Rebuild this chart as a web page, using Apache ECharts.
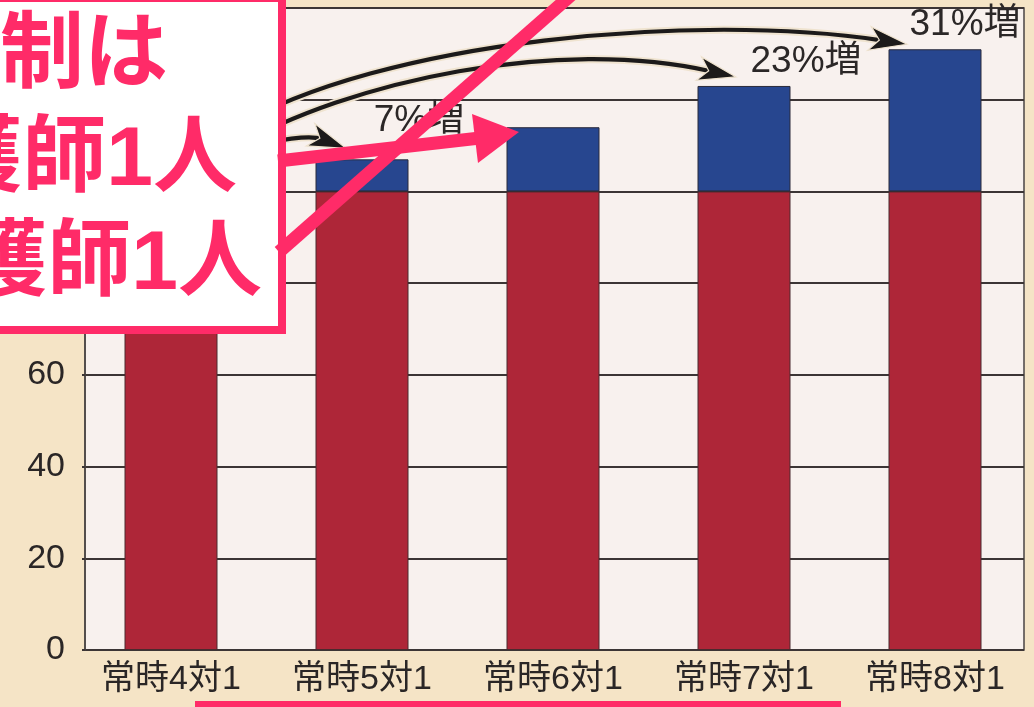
<!DOCTYPE html>
<html>
<head>
<meta charset="utf-8">
<style>
  html, body { margin: 0; padding: 0; background: #f5e4c6; }
  #chart { width: 1034px; height: 707px; }
</style>
<script src="https://cdn.jsdelivr.net/npm/echarts@6/dist/echarts.min.js"></script>
</head>
<body>
<div id="chart"></div>
<script>
// Staffing ratios on the x axis
const categories = ['常時4対1', '常時5対1', '常時6対1', '常時7対1', '常時8対1'];
// Baseline staffing (index 100) and the additional part above it
const baseValues = [100, 100, 100, 100, 100];
const extraValues = [0, 7, 14, 23, 31];
// Which bars carry an "n%増" callout
const showIncrease = [false, true, false, true, true];
// Value axis ticks
const yMin = 0, yMax = 140, yStep = 20;

const FONT = '"Liberation Sans", "Noto Sans CJK JP", sans-serif';
const PINK = '#ff2b68';
const RED = '#ae2638';
const BLUE = '#27468f';
const INK = '#2a2626';

// Label nudges for the callouts, per category
const calloutShift = [[0, 0], [57, -14], [0, 0], [62, 0], [30, 0]];

const chart = echarts.init(document.getElementById('chart'), null, { renderer: 'canvas' });

const blueData = extraValues.map((v, i) => ({
  value: v,
  label: {
    show: showIncrease[i],
    offset: calloutShift[i]
  }
}));

chart.setOption({
  animation: false,
  backgroundColor: '#f5e4c6',
  grid: [
    { left: 85, right: 10, top: 8, bottom: 57, show: true,
      backgroundColor: '#f8f1ee', borderColor: '#4a4444', borderWidth: 1.5 },
    { left: 75.5, width: 955, top: 8, bottom: 57 }
  ],
  xAxis: [
    { gridIndex: 0, type: 'category', data: categories, show: false },
    { gridIndex: 1, type: 'category', data: categories,
      axisLine: { show: false }, axisTick: { show: false },
      axisLabel: { fontSize: 34, color: INK, fontFamily: FONT, margin: 13 } }
  ],
  yAxis: [
    { gridIndex: 0, type: 'value', min: yMin, max: yMax, interval: yStep,
      axisLine: { show: true, lineStyle: { color: '#4a4444', width: 1.5 } },
      axisTick: { show: true, length: 3, lineStyle: { color: '#3c3535', width: 2 } },
      splitLine: { show: true, lineStyle: { color: '#3c3535', width: 2 } },
      axisLabel: { fontSize: 34, color: INK, fontFamily: FONT, margin: 20,
        formatter: v => (v >= 80 ? '' : String(v)) } },
    { gridIndex: 1, type: 'value', min: yMin, max: yMax, interval: yStep, show: false }
  ],
  series: [
    { type: 'bar', name: 'base', stack: 'total', xAxisIndex: 1, yAxisIndex: 1,
      data: baseValues, barWidth: 93,
      itemStyle: { color: RED, borderColor: '#4a2a2e', borderWidth: 1 } },
    { type: 'bar', name: 'extra', stack: 'total', xAxisIndex: 1, yAxisIndex: 1,
      data: blueData, barWidth: 93,
      itemStyle: { color: BLUE, borderColor: '#2a2a3a', borderWidth: 1 },
      label: { show: false, position: 'top', distance: 6,
        fontSize: 37, color: '#2b2727', fontFamily: FONT,
        formatter: p => p.value + '%増' } }
  ]
});

// Pixel position of the top of a stacked bar
function barTop(i) {
  const total = baseValues[i] + extraValues[i];
  return chart.convertToPixel({ xAxisIndex: 1, yAxisIndex: 1 }, [i, total]);
}

// Curved black arrow with a pale halo, ending at the tip point
function curvedArrow(p0, p1, p2, tip) {
  const els = [];
  const dx = tip[0] - p2[0], dy = tip[1] - p2[1];
  const len = Math.hypot(dx, dy);
  const ux = dx / len, uy = dy / len;
  const nx = -uy, ny = ux;
  const back = 38, half = 12, notch = 28;
  // stop the shaft inside the head so the point stays sharp
  const end = [tip[0] - ux * (notch - 2), tip[1] - uy * (notch - 2)];
  const shape = { x1: p0[0], y1: p0[1], cpx1: p1[0], cpy1: p1[1],
    cpx2: p2[0], cpy2: p2[1], x2: end[0], y2: end[1] };
  els.push({ type: 'bezierCurve', shape, z: 10,
    style: { stroke: '#efe3cf', lineWidth: 8, fill: null } });
  els.push({ type: 'bezierCurve', shape, z: 11,
    style: { stroke: '#1c1a1a', lineWidth: 4.2, fill: null } });
  els.push({ type: 'polygon', z: 12,
    shape: { points: [
      [tip[0], tip[1]],
      [tip[0] - ux * back + nx * half, tip[1] - uy * back + ny * half],
      [tip[0] - ux * notch, tip[1] - uy * notch],
      [tip[0] - ux * back - nx * half, tip[1] - uy * back - ny * half]
    ] },
    style: { fill: '#1c1a1a', stroke: '#efe3cf', lineWidth: 1.2 } });
  return els;
}

const origin = barTop(0);
const t1 = barTop(1), t3 = barTop(3), t4 = barTop(4);
const graphics = [];
graphics.push(...curvedArrow([origin[0] + 60, origin[1] - 40], [origin[0] + 110, origin[1] - 54],
  [t1[0] - 50, t1[1] - 24], [t1[0] - 16, t1[1] - 11]));
graphics.push(...curvedArrow([origin[0] + 60, origin[1] - 42], [origin[0] + 180, origin[1] - 112],
  [t3[0] - 185, t3[1] - 49], [t3[0] - 8, t3[1] - 9]));
graphics.push(...curvedArrow([origin[0] + 60, origin[1] - 62], [origin[0] + 210, origin[1] - 152],
  [t4[0] - 236, t4[1] - 37], [t4[0] - 28, t4[1] - 5]));

// Pink overlay: callout box, pointer arrow, strike line and underline
graphics.push({ type: 'rect', z: 30,
  shape: { x: -20, y: -2, width: 302, height: 332 },
  style: { fill: '#ffffff', stroke: PINK, lineWidth: 8 } });
const boxLines = [
  { text: '制は', x: 168, y: 58 },
  { text: '護師1人', x: 237, y: 162 },
  { text: '護師1人', x: 262, y: 266 }
];
boxLines.forEach(l => graphics.push({ type: 'text', z: 31, x: l.x, y: l.y,
  style: { text: l.text, fill: PINK, font: 'bold 84px ' + FONT,
    textAlign: 'right', textVerticalAlign: 'middle' } }));
graphics.push({ type: 'line', z: 32,
  shape: { x1: 278, y1: 161, x2: 480, y2: 138 },
  style: { stroke: PINK, lineWidth: 13 } });
graphics.push({ type: 'polygon', z: 32,
  shape: { points: [[519, 132], [472, 114], [478, 163]] },
  style: { fill: PINK } });
graphics.push({ type: 'line', z: 32,
  shape: { x1: 279, y1: 252, x2: 594, y2: -25 },
  style: { stroke: PINK, lineWidth: 13 } });
graphics.push({ type: 'rect', z: 32,
  shape: { x: 195, y: 701, width: 646, height: 6 },
  style: { fill: PINK } });

chart.setOption({ graphic: graphics });
</script>
</body>
</html>
